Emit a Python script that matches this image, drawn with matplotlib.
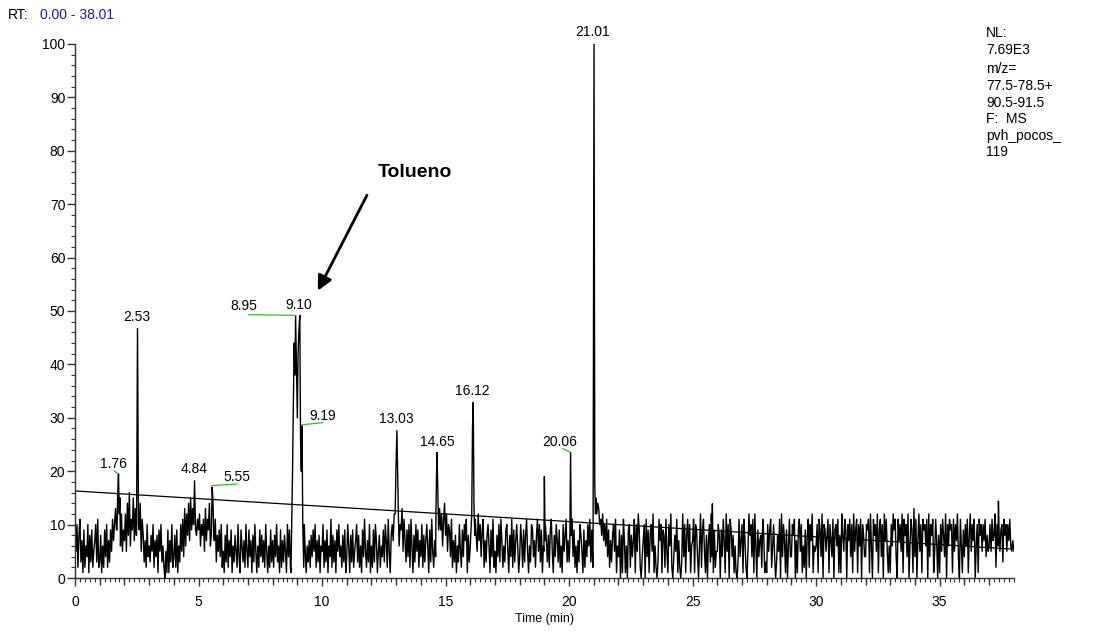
import numpy as np
import matplotlib.pyplot as plt
from matplotlib.ticker import MultipleLocator

plt.rcParams['font.family'] = ['Liberation Sans', 'DejaVu Sans']

# baseline signal, one string per minute, base-36 digits = relative abundance (%)
noise_rows = [
    "c5a28b3719264a1839257a3b2",
    "3816294a27395b7ad9e8g6c59",
    "7c5e8g6b9f7d8a69e5b8372a4",
    "6385a2748195a3620519173a2",
    "4829163a5b4d6c8e7f9d6ca8b",
    "9c6a8b5d7b9e6c4a7b38594a2",
    "5183a2749163852a4196372a5",
    "2947183a5162948372a516293",
    "7284a3619273851a492726103",
    "3b18294a5163728495a273816",
    "5a2739164b2837195a4628391",
    "4a61839257a3826194b5273a1",
    "6293a715826493a72b518a7c9",
    "b8c6a9d5b7394a2b6183a5927",
    "4a2837a6193b52749a8d9c6be",
    "8c5a94b2738163a5294a7b183",
    "6a493b85c7a49b2738a6194b2",
    "5184a3b72639a5184b2937a61",
    "4a72938b5163a94728b5a3916",
    "4a73829b5184a739261a58b37",
    "3a8b4926173a8519274a6b392",
    "9hfcedab8c7a6b492738a5b16",
    "49081b71609a2847b1a5c9204",
    "7a0b4918a5c16203b7a1982b5",
    "1a6c20485b17203c4a18b5a16",
    "7b1a9406c29b51807a3c91925",
    "5a8094b71c5a0b94816103b47",
    "a1b7205c8a4b1c6094782b813",
    "1a59b26a40385b0c4a71906b4",
    "4a8b0719b5a162908b2a7c165",
    "6a1b94c0a958b1a74b09a6b18",
    "1c85b90a7b4a1c59b1a6b0a84",
    "4a9b1c60b8a5c19b4a0c7b516",
    "1a6c9b40b7a5c1b8a4c06b91d",
    "4b07c5a1b9a6b0c4a8b15b708",
    "1a5b84c0a6b9a1b5a7c40b619",
    "4a6b18c5a7b06a1b8a5a7b485",
    "6a5b78c2a7b59a3b8a5a7b657",
]
t_end = 38.01
end_value = 5

# peaks: (retention time, relative abundance) points
peak_groups = [
    [(1.70, 9), (1.73, 16), (1.76, 19.5), (1.79, 12), (1.82, 15)],
    [(2.49, 8), (2.53, 46.7), (2.57, 10)],
    [(4.80, 10), (4.84, 18.2), (4.88, 9)],
    [(5.52, 8), (5.55, 17), (5.58, 15), (5.62, 8)],
    [(8.74, 1), (8.80, 18), (8.84, 33), (8.87, 44), (8.90, 38), (8.93, 49),
     (8.96, 41), (9.00, 30), (9.03, 42), (9.06, 46), (9.10, 49.2), (9.13, 26),
     (9.16, 20), (9.19, 28.5), (9.22, 10), (9.26, 2)],
    [(12.96, 12), (12.99, 20), (13.03, 27.6), (13.06, 20), (13.09, 12)],
    [(14.61, 12), (14.65, 23.5), (14.68, 18), (14.72, 9)],
    [(16.06, 12), (16.09, 28), (16.12, 32.9), (16.15, 14), (16.18, 8)],
    [(18.98, 5), (19.00, 19), (19.03, 7)],
    [(20.03, 6), (20.06, 23.5), (20.09, 8)],
    [(20.97, 3), (21.01, 100), (21.04, 17.5), (21.07, 12)],
    [(25.78, 4), (25.80, 13.9), (25.83, 5)],
    [(37.36, 6), (37.38, 14.4), (37.41, 8)],
]

labels = ["1.76", "2.53", "4.84", "5.55", "8.95", "9.10", "9.19",
          "13.03", "14.65", "16.12", "20.06", "21.01"]
label_xy = [(1.54, 21.4), (2.51, 48.8), (4.82, 20.5), (6.56, 18.9),
            (6.84, 51.0), (9.07, 51.2), (10.04, 30.4), (12.99, 29.8),
            (14.65, 25.5), (16.07, 35.1), (19.63, 25.5), (20.96, 102.2)]
leaders = [((1.58, 20.1), (1.74, 19.5)),
           ((5.54, 17.3), (6.56, 17.6)),
           ((7.04, 49.3), (8.94, 49.2)),
           ((9.19, 28.7), (10.04, 29.1)),
           ((19.75, 24.2), (20.03, 23.6))]

baseline_fit = ([0.0, t_end], [16.3, 5.4])

info_lines = ["NL:", "7.69E3", "m/z=", "77.5-78.5+", "90.5-91.5",
              "F:  MS", "pvh_pocos_", "119"]

# build the trace
bt, by = [], []
for i, row in enumerate(noise_rows):
    n = len(row)
    for j, ch in enumerate(row):
        bt.append(i + j / n)
        by.append(int(ch, 36))
bt.append(t_end)
by.append(end_value)
bt = np.array(bt, dtype=float)
by = np.array(by, dtype=float)

keep = np.ones(len(bt), dtype=bool)
pt, py = [], []
for grp in peak_groups:
    g = np.array(grp)
    keep &= ~((bt >= g[0, 0]) & (bt <= g[-1, 0]))
    pt.extend(g[:, 0])
    py.extend(g[:, 1])
t = np.concatenate([bt[keep], pt])
y = np.concatenate([by[keep], py])
order = np.argsort(t)
t, y = t[order], y[order]

W, H = 1108, 637
fig = plt.figure(figsize=(W / 100, H / 100), dpi=100)
ax = fig.add_axes([75 / W, 1 - 578 / H, (1014 - 75) / W, (578 - 44) / H])

ax.plot(t, y, color='black', lw=1.0)
ax.plot(baseline_fit[0], baseline_fit[1], color='black', lw=0.9)

ax.set_xlim(0, t_end)
ax.set_ylim(0, 100)
for s in ['top', 'right']:
    ax.spines[s].set_visible(False)
for s in ['left', 'bottom']:
    ax.spines[s].set_color('#333333')
    ax.spines[s].set_linewidth(1.0)

ax.xaxis.set_major_locator(MultipleLocator(5))
ax.xaxis.set_minor_locator(MultipleLocator(0.2))
ax.yaxis.set_major_locator(MultipleLocator(10))
ax.yaxis.set_minor_locator(MultipleLocator(2))
ax.tick_params(axis='both', which='major', length=6, width=1, colors='#333333',
               labelcolor='black', labelsize=10)
ax.tick_params(axis='both', which='minor', length=3, width=0.8, colors='#333333')
ax.tick_params(axis='x', which='major', pad=6)
ax.tick_params(axis='y', which='major', pad=1)

# one-minute ticks, a bit longer than the minor ones
sec = ax.secondary_xaxis('bottom')
sec.set_xticks([m for m in range(1, 38) if m % 5])
sec.tick_params(length=5, width=1, colors='#333333', labelbottom=False)
sec.spines['bottom'].set_visible(False)

ax.set_xlabel("Time (min)", fontsize=9, labelpad=3)

for lab, (lx, ly) in zip(labels, label_xy):
    ax.text(lx, ly, lab, ha='center', va='center', fontsize=10, clip_on=False)
for (x0, y0), (x1, y1) in leaders:
    ax.plot([x0, x1], [y0, y1], color='#33bb33', lw=0.9, clip_on=False)

ax.annotate("", xy=(9.83, 53.8), xytext=(11.82, 71.7),
            arrowprops=dict(arrowstyle='-|>', color='black', lw=2,
                            mutation_scale=22, shrinkA=0, shrinkB=0))
ax.text(13.76, 76.0, "Tolueno", ha='center', va='center', fontsize=14,
        fontweight='bold')

fig.text(8 / W, 1 - 15 / H, "RT:", ha='left', va='center', fontsize=10)
fig.text(40 / W, 1 - 15 / H, "0.00 - 38.01", ha='left', va='center',
         fontsize=10, color='#1c1ca8')

info_y = [33, 50, 69, 86, 103, 119, 136, 152]
for line, yy in zip(info_lines, info_y):
    fig.text(986 / W, 1 - yy / H, line, ha='left', va='center', fontsize=10)

fig.savefig("out.png", dpi=100)
